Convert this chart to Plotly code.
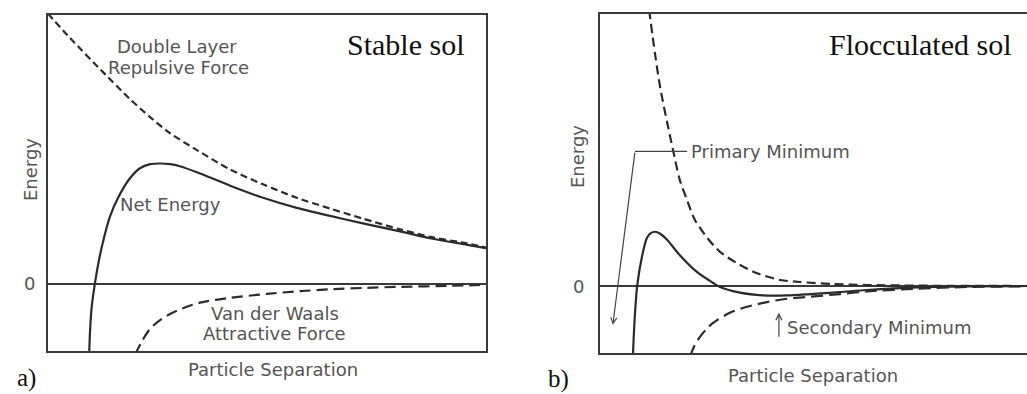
import plotly.graph_objects as go

W, H = 1027, 394

# ---------------- Panel a) Stable sol ----------------
# separation (arbitrary units 0-10), energy (arbitrary units, 0 = zero line)
a_rep_x = [0.0, 0.50, 1.30, 1.87, 2.33, 2.79, 3.40, 4.16, 4.91, 5.68, 6.44, 7.19, 8.04, 8.79, 9.57, 10.0]
a_rep_y = [4.02, 3.66, 3.12, 2.75, 2.48, 2.24, 1.99, 1.70, 1.48, 1.28, 1.12, 0.97, 0.81, 0.69, 0.60, 0.54]

a_net_x = [0.94, 0.96, 1.00, 1.07, 1.16, 1.28, 1.42, 1.60, 1.87, 2.10, 2.33, 2.56, 2.79, 3.01,
           3.40, 4.16, 4.91, 5.68, 6.44, 7.19, 8.04, 8.79, 9.57, 10.0]
a_net_y = [-1.05, -0.70, -0.33, 0.0, 0.34, 0.69, 1.01, 1.28, 1.57, 1.72, 1.78, 1.79, 1.78, 1.75,
           1.66, 1.46, 1.28, 1.13, 1.01, 0.90, 0.78, 0.67, 0.58, 0.53]

a_vdw_x = [1.99, 2.15, 2.33, 2.60, 2.95, 3.47, 4.16, 5.00, 5.75, 6.51, 7.28, 8.04, 9.18, 10.0]
a_vdw_y = [-1.05, -0.85, -0.67, -0.52, -0.40, -0.28, -0.21, -0.15, -0.11, -0.08, -0.06, -0.045, -0.03, -0.015]

# ---------------- Panel b) Flocculated sol ----------------
b_rep_x = [1.15, 1.29, 1.41, 1.57, 1.71, 1.87, 2.04, 2.22, 2.51, 2.81, 3.21, 3.68, 4.22, 4.68,
           5.46, 6.25, 7.49, 10.0]
b_rep_y = [4.12, 3.46, 2.96, 2.45, 2.03, 1.58, 1.28, 0.99, 0.72, 0.51, 0.34, 0.19, 0.09, 0.06,
           0.03, 0.015, 0.005, 0.0]

b_net_x = [0.77, 0.81, 0.87, 0.98, 1.10, 1.19, 1.29, 1.41, 1.57, 1.87, 2.27, 2.65, 2.81, 3.28,
           3.82, 4.38, 4.92, 5.62, 6.25, 7.42, 8.59, 10.0]
b_net_y = [-1.05, -0.51, 0.0, 0.43, 0.72, 0.79, 0.81, 0.78, 0.69, 0.46, 0.21, 0.045, -0.015, -0.10,
           -0.14, -0.14, -0.12, -0.09, -0.06, -0.022, -0.007, 0.0]

b_vdw_x = [2.11, 2.22, 2.34, 2.51, 2.65, 3.04, 3.44, 3.91, 4.38, 4.92, 5.62, 6.25, 7.42, 8.59, 10.0]
b_vdw_y = [-1.05, -0.88, -0.76, -0.63, -0.55, -0.40, -0.31, -0.24, -0.19, -0.16, -0.12, -0.08,
           -0.04, -0.015, -0.005]

# annotation anchor points (data units, panel b)
prim_label = (2.04, 2.01)
prim_corner = (0.82, 2.01)
prim_tip = (0.30, -0.58)
sec_tip = (4.19, -0.40)
sec_tail = (4.19, -0.78)

LINE = "#2b2b2b"
FRAME = "#3a3a3a"
TXT = "#555555"
SANS = "DejaVu Sans, Verdana, sans-serif"
SERIF = "Liberation Serif, Times New Roman, serif"

fig = go.Figure()

def curve(x, y, xa, ya, dash):
    fig.add_trace(go.Scatter(
        x=x, y=y, xaxis=xa, yaxis=ya, mode="lines",
        line=dict(color=LINE, width=2.2, dash=dash, shape="spline", smoothing=0.8),
        hoverinfo="skip", showlegend=False))

curve(a_rep_x, a_rep_y, "x", "y", "7px,4px")
curve(a_net_x, a_net_y, "x", "y", "solid")
curve(a_vdw_x, a_vdw_y, "x", "y", "11px,6px")
curve(b_rep_x, b_rep_y, "x2", "y2", "9px,5px")
curve(b_net_x, b_net_y, "x2", "y2", "solid")
curve(b_vdw_x, b_vdw_y, "x2", "y2", "12px,6px")

axis_common = dict(showgrid=False, showticklabels=False, ticks="", linecolor=FRAME,
                   linewidth=2, showline=True)

fig.update_layout(
    width=W, height=H,
    margin=dict(l=0, r=0, t=0, b=0),
    paper_bgcolor="white", plot_bgcolor="white",
    xaxis=dict(domain=[48 / W, 486 / W], range=[0, 10], mirror=True, zeroline=False,
               anchor="y", **axis_common),
    yaxis=dict(domain=[1 - 351 / H, 1 - 15 / H], range=[-1, 4.0], mirror=True,
               zeroline=True, zerolinecolor=FRAME, zerolinewidth=2, anchor="x", **axis_common),
    xaxis2=dict(domain=[600 / W, 1.0], range=[0, 10], mirror=True, zeroline=False,
                anchor="y2", **axis_common),
    yaxis2=dict(domain=[1 - 353 / H, 1 - 13.5 / H], range=[-1, 4.067], mirror=False,
                zeroline=True, zerolinecolor=FRAME, zerolinewidth=2, anchor="x2", **axis_common),
)

def ptext(px, py, text, size=18, font=SANS, color=TXT, xanchor="center", angle=0):
    fig.add_annotation(x=px / W, y=1 - py / H, xref="paper", yref="paper", text=text,
                       showarrow=False, xanchor=xanchor, yanchor="middle", textangle=angle,
                       font=dict(family=font, size=size, color=color))

# panel a texts
ptext(177, 47, "Double Layer")
ptext(178, 67, "Repulsive Force")
ptext(170, 205, "Net Energy")
ptext(275, 313, "Van der Waals")
ptext(274, 333, "Attractive Force")
ptext(406, 45, "Stable sol", size=30, font=SERIF, color="#111111")
ptext(30, 170, "Energy", angle=-90)
ptext(29, 283, "0")
ptext(273, 369, "Particle Separation")
ptext(26, 378, "a)", size=25, font=SERIF, color="#111111")

# panel b texts
ptext(920, 45, "Flocculated sol", size=30, font=SERIF, color="#111111")
ptext(578, 157, "Energy", angle=-90)
ptext(578, 286, "0")
ptext(813, 375, "Particle Separation")
ptext(558, 379, "b)", size=25, font=SERIF, color="#111111")

fig.add_annotation(x=prim_label[0], y=prim_label[1], xref="x2", yref="y2",
                   text="Primary Minimum", showarrow=False, xanchor="left", yanchor="middle",
                   xshift=2, font=dict(family=SANS, size=18, color=TXT))
fig.add_shape(type="line", xref="x2", yref="y2", x0=prim_corner[0], y0=prim_corner[1],
              x1=prim_label[0], y1=prim_label[1], line=dict(color="#444444", width=1.2))
fig.add_annotation(x=prim_tip[0], y=prim_tip[1], ax=prim_corner[0], ay=prim_corner[1],
                   xref="x2", yref="y2", axref="x2", ayref="y2", text="", showarrow=True,
                   arrowhead=5, arrowsize=1, arrowwidth=1.2, arrowcolor="#444444")

fig.add_annotation(x=sec_tail[0], y=sec_tail[1] + 0.16, xref="x2", yref="y2",
                   text="Secondary Minimum", showarrow=False, xanchor="left", yanchor="middle",
                   xshift=6, font=dict(family=SANS, size=18, color=TXT))
fig.add_annotation(x=sec_tip[0], y=sec_tip[1], ax=sec_tail[0], ay=sec_tail[1],
                   xref="x2", yref="y2", axref="x2", ayref="y2", text="", showarrow=True,
                   arrowhead=5, arrowsize=1, arrowwidth=1.2, arrowcolor="#444444")

fig.write_html("out.html")
